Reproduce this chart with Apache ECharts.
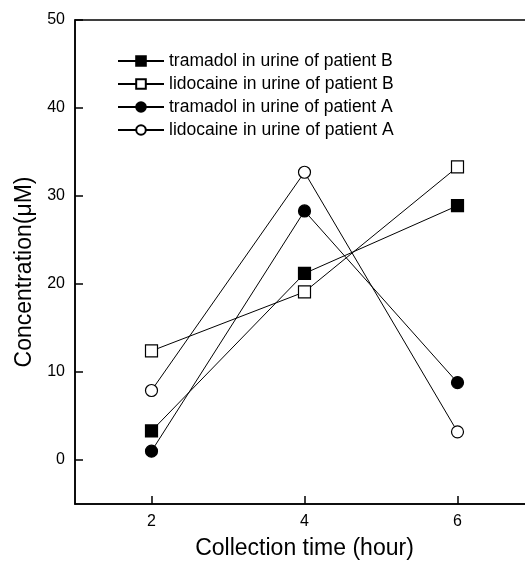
<!DOCTYPE html>
<html><head><meta charset="utf-8">
<script src="https://cdn.jsdelivr.net/npm/echarts@6/dist/echarts.min.js"></script>
<style>html,body{margin:0;padding:0;background:#fff}#c{width:525px;height:561px}</style>
</head><body><div id="c"></div>
<script>
const times = [2, 4, 6];
const tramadolB = [3.3, 21.2, 28.9];
const lidocaineB = [12.4, 19.1, 33.3];
const tramadolA = [1.0, 28.3, 8.8];
const lidocaineA = [7.9, 32.7, 3.2];
const yTicks = [0, 10, 20, 30, 40, 50];
const xTicks = [2, 4, 6];
const names = ['tramadol in urine of patient B','lidocaine in urine of patient B','tramadol in urine of patient A','lidocaine in urine of patient A'];

const FONT = '"Liberation Sans", Arial, sans-serif';
function mk(name, vals, symbol, filled, size){
  return {
    name, type:'line', data: times.map((t,i)=>[t, vals[i]]),
    symbol, symbolSize:size, showSymbol:true,
    lineStyle:{color:'#000', width:1},
    itemStyle:{color: filled ? '#000' : '#fff', borderColor:'#000', borderWidth:1.2},
    emphasis:{disabled:true}, animation:false, z: filled?3:4
  };
}
const chart = echarts.init(document.getElementById('c'));
chart.setOption({
  animation:false,
  backgroundColor:'#fff',
  grid:{left:75, top:20, width:459, height:484, outerBoundsMode:'none', containLabel:false,
        show:true, borderColor:'#000', borderWidth:1.5, backgroundColor:'transparent'},
  legend:{
    orient:'vertical', left:117, top:52, padding:0, itemWidth:46, itemHeight:12, itemGap:5,
    textStyle:{fontFamily:FONT, fontSize:17.5, lineHeight:17, color:'#000'},
    data:names
  },
  xAxis:{
    type:'value', min:1, max:7,
    name:'Collection time (hour)', nameLocation:'middle', nameGap:33,
    nameTextStyle:{fontFamily:FONT, fontSize:23, color:'#000'},
    axisLine:{onZero:false, lineStyle:{color:'#000', width:1.5}},
    axisTick:{inside:true, length:8, lineStyle:{color:'#000', width:1.5}, customValues:xTicks},
    axisLabel:{fontFamily:FONT, fontSize:16, color:'#000', margin:10, customValues:xTicks},
    splitLine:{show:false}
  },
  yAxis:{
    type:'value', min:-5, max:50,
    name:'Concentration(μM)', nameLocation:'middle', nameGap:38, nameRotate:90,
    nameTextStyle:{fontFamily:FONT, fontSize:23, color:'#000', padding:[0,20,0,0]},
    axisLine:{onZero:false, lineStyle:{color:'#000', width:1.5}},
    axisTick:{inside:true, length:8, lineStyle:{color:'#000', width:1.5}, customValues:yTicks},
    axisLabel:{fontFamily:FONT, fontSize:16, color:'#000', margin:10, customValues:yTicks},
    splitLine:{show:false}
  },
  series:[
    mk(names[0], tramadolB, 'rect', true, 12),
    mk(names[1], lidocaineB, 'rect', false, 12),
    mk(names[2], tramadolA, 'circle', true, 12),
    mk(names[3], lidocaineA, 'circle', false, 12)
  ]
});
</script></body></html>
